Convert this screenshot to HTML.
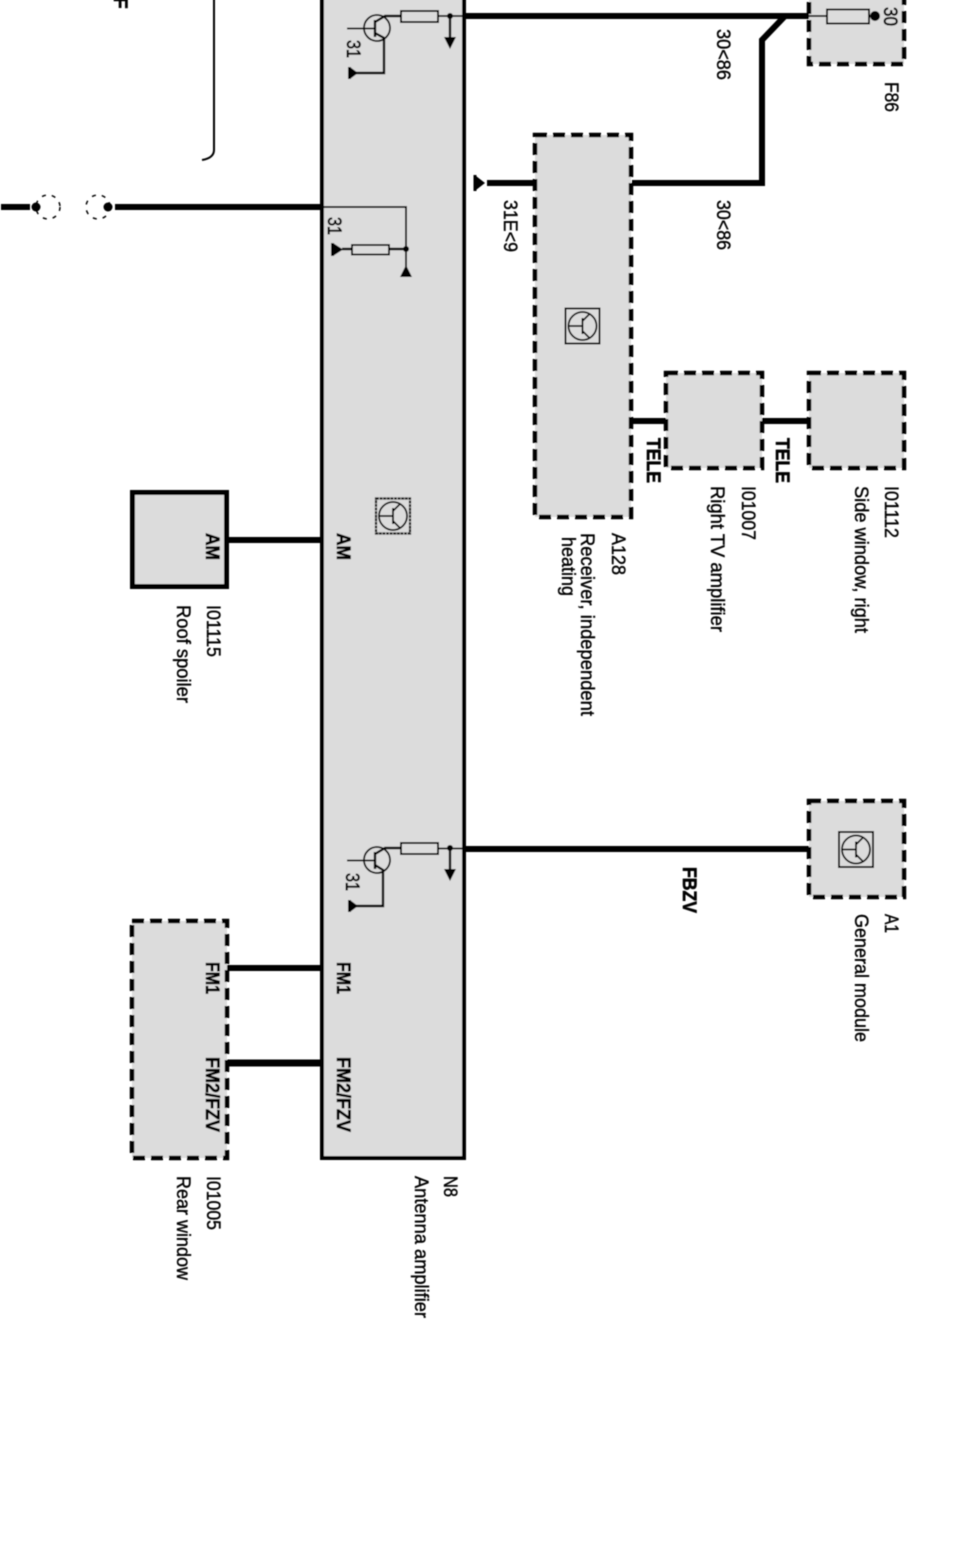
<!DOCTYPE html>
<html><head><meta charset="utf-8"><style>
html,body{margin:0;padding:0;background:#fff}
svg{display:block}
text{font-family:"Liberation Sans",sans-serif;font-size:19px;fill:#000;stroke:#000;stroke-width:.4}
.b{font-weight:bold;stroke-width:.6}
.h{stroke-width:.7}
.box{fill:#dcdcdc;stroke:#000;stroke-width:4.500;stroke-dasharray:12 6}
.w{fill:none;stroke:#000;stroke-width:6}
.t{fill:none;stroke:#000;stroke-width:1.800}
.m{fill:none;stroke:#000;stroke-width:2.400}
</style></head><body>
<svg width="956" height="1541" viewBox="0 0 956 1541" xmlns="http://www.w3.org/2000/svg">
<defs><filter id="bl" filterUnits="userSpaceOnUse" x="0" y="0" width="956" height="1541"><feGaussianBlur stdDeviation="0.5"/></filter></defs>
<rect width="956" height="1541" fill="#fff"/>
<g filter="url(#bl)">

<!-- N8 -->
<rect x="322" y="-8" width="142" height="1166" fill="#dcdcdc" stroke="#000" stroke-width="4"/>

<!-- boxes -->
<rect x="809" y="-20" width="95" height="84" class="box"/>
<rect x="535" y="135" width="96" height="382" class="box"/>
<rect x="666" y="373" width="96" height="95" class="box"/>
<rect x="809" y="373" width="95" height="95" class="box"/>
<rect x="809" y="801" width="95" height="96" class="box"/>
<rect x="132" y="921" width="95" height="237" class="box"/>
<rect x="132.500" y="492.500" width="94" height="94" fill="#dcdcdc" stroke="#000" stroke-width="5"/>

<!-- thick wires -->
<path class="w" d="M464 16H809"/>
<path class="w" d="M785 16L762 40V183H632"/>
<path class="w" d="M487 183H535"/>
<path class="w" d="M632 421H666M762 421H809"/>
<path class="w" d="M464 849H809"/>
<path class="w" d="M227 540H322"/>
<path class="w" d="M227 968H322"/>
<path class="w" style="stroke-width:7" d="M227 1063H322"/>
<path class="w" d="M1 207H30M115 207H322"/>
<path d="M485 183L476 176V190Z" fill="#000"/>
<rect x="473.500" y="175" width="3" height="16" fill="#000"/>

<!-- thin top-left line -->
<path d="M214 -2V150Q214 158 202 160" fill="none" stroke="#000" stroke-width="2"/>

<!-- connector -->
<circle cx="36" cy="207" r="4.500" fill="#000"/>
<circle cx="108" cy="207" r="4.500" fill="#000"/>
<circle cx="48" cy="207" r="12" fill="none" stroke="#000" stroke-width="1.500" stroke-dasharray="4 6"/>
<circle cx="98" cy="207" r="12" fill="none" stroke="#000" stroke-width="1.500" stroke-dasharray="4 6"/>

<!-- fuse F86 -->
<path class="t" d="M806 16H875"/>
<rect x="827" y="9.500" width="42" height="14" fill="#dcdcdc" stroke="#000" stroke-width="2"/>
<circle cx="875" cy="16" r="5" fill="#000"/>

<!-- transistor top -->
<circle cx="377" cy="28" r="13" class="t"/>
<path class="t" d="M347 28.500H375"/>
<path class="m" d="M375 20V37M375 22L385 16H401M375 33L384 38V73H356"/>
<rect x="348" y="67" width="3" height="12" fill="#000"/>
<path d="M350 67L358 73L350 79Z" fill="#000"/>
<rect x="401" y="11" width="37" height="11" fill="#dcdcdc" stroke="#000" stroke-width="2"/>
<path class="t" d="M438 16H464"/>
<circle cx="450" cy="16" r="3" fill="#000"/>
<path class="m" d="M450 16V38"/>
<path d="M444 37H456L450 49Z" fill="#000"/>

<!-- transistor bottom -->
<circle cx="377" cy="860" r="13" class="t"/>
<path class="t" d="M347 860.500H375"/>
<path class="m" d="M375 852V869M375 854L385 848H401M375 865L383 870V906H356"/>
<rect x="348" y="900" width="3" height="12" fill="#000"/>
<path d="M350 900L358 906L350 912Z" fill="#000"/>
<rect x="401" y="843" width="37" height="11" fill="#dcdcdc" stroke="#000" stroke-width="2"/>
<path class="t" d="M438 848.500H464"/>
<circle cx="450" cy="848" r="3" fill="#000"/>
<path class="m" d="M450 848V870"/>
<path d="M444 869H456L450 881Z" fill="#000"/>

<!-- shield section -->
<path class="t" d="M322 207H406V268" style="stroke-width:2"/>
<circle cx="406" cy="249" r="3" fill="#000"/>
<path d="M400 277H412L406 265Z" fill="#000"/>
<path class="m" d="M342 249H352M389 249H406"/>
<rect x="352" y="245" width="37" height="9.500" fill="#dcdcdc" stroke="#000" stroke-width="1.800"/>
<rect x="331" y="243" width="3" height="13" fill="#000"/>
<path d="M333 243L343 249.500L333 256Z" fill="#000"/>

<!-- module icons -->
<g transform="translate(393 516)">
<rect x="-17" y="-17.500" width="34" height="35" fill="none" stroke="#000" stroke-width="2.200" stroke-dasharray="3 .6"/>
<circle r="14" class="t"/>
<path class="t" d="M-14 0H0M0 -8V8M0 -5L7 -12M0 5L7 12"/>
</g>
<g transform="translate(582.500 326)">
<rect x="-17" y="-17.500" width="34" height="35" fill="none" stroke="#000" stroke-width="2"/>
<circle r="14" class="t"/>
<path class="t" d="M-14 0H0M0 -8V8M0 -5L7 -12M0 5L7 12"/>
</g>
<g transform="translate(856 849.500)">
<rect x="-17" y="-17.500" width="34" height="35" fill="none" stroke="#000" stroke-width="2"/>
<circle r="14" class="t"/>
<path class="t" d="M-14 0H0M0 -8V8M0 -5L7 -12M0 5L7 12"/>
</g>

<!-- labels -->
<g transform="translate(1 0)">
<text class="b" transform="translate(113 -3) rotate(90)">F</text>
<text class="h" transform="translate(346 40) rotate(90)" textLength="18" lengthAdjust="spacingAndGlyphs">31</text>
<text class="h" transform="translate(327 217) rotate(90)" textLength="18" lengthAdjust="spacingAndGlyphs">31</text>
<text class="h" transform="translate(345 873) rotate(90)" textLength="18" lengthAdjust="spacingAndGlyphs">31</text>
<text class="h" transform="translate(883 7) rotate(90)" textLength="19" lengthAdjust="spacingAndGlyphs">30</text>
<text transform="translate(716 29) rotate(90)" textLength="51" lengthAdjust="spacingAndGlyphs">30&lt;86</text>
<text transform="translate(716 200) rotate(90)" textLength="50" lengthAdjust="spacingAndGlyphs">30&lt;86</text>
<text transform="translate(503 200) rotate(90)" textLength="52" lengthAdjust="spacingAndGlyphs">31E&lt;9</text>
<text transform="translate(884 82) rotate(90)" textLength="30" lengthAdjust="spacingAndGlyphs">F86</text>
<text class="b" transform="translate(646 438) rotate(90)" textLength="45" lengthAdjust="spacingAndGlyphs">TELE</text>
<text class="b" transform="translate(775 438) rotate(90)" textLength="45" lengthAdjust="spacingAndGlyphs">TELE</text>
<text transform="translate(611 533) rotate(90)" textLength="42" lengthAdjust="spacingAndGlyphs">A128</text>
<text transform="translate(580 533) rotate(90)" textLength="183" lengthAdjust="spacingAndGlyphs">Receiver, independent</text>
<text transform="translate(561 537) rotate(90)" textLength="59" lengthAdjust="spacingAndGlyphs">heating</text>
<text transform="translate(741 486) rotate(90)" textLength="54" lengthAdjust="spacingAndGlyphs">I01007</text>
<text transform="translate(710 486) rotate(90)" textLength="146" lengthAdjust="spacingAndGlyphs">Right TV amplifier</text>
<text transform="translate(884 486) rotate(90)" textLength="52" lengthAdjust="spacingAndGlyphs">I01112</text>
<text transform="translate(854 486) rotate(90)" textLength="147" lengthAdjust="spacingAndGlyphs">Side window, right</text>
<text class="b" transform="translate(682 867) rotate(90)" textLength="46" lengthAdjust="spacingAndGlyphs">FBZV</text>
<text transform="translate(884 914) rotate(90)" textLength="19" lengthAdjust="spacingAndGlyphs">A1</text>
<text transform="translate(854 914) rotate(90)" textLength="128" lengthAdjust="spacingAndGlyphs">General module</text>
<text class="b" transform="translate(205 533) rotate(90)" textLength="27" lengthAdjust="spacingAndGlyphs">AM</text>
<text class="b" transform="translate(336 533) rotate(90)" textLength="27" lengthAdjust="spacingAndGlyphs">AM</text>
<text transform="translate(206 605) rotate(90)" textLength="52" lengthAdjust="spacingAndGlyphs">I01115</text>
<text transform="translate(176 605) rotate(90)" textLength="98" lengthAdjust="spacingAndGlyphs">Roof spoiler</text>
<text class="b" transform="translate(205 962) rotate(90)" textLength="32" lengthAdjust="spacingAndGlyphs">FM1</text>
<text class="b" transform="translate(336 962) rotate(90)" textLength="32" lengthAdjust="spacingAndGlyphs">FM1</text>
<text class="b" transform="translate(205 1057) rotate(90)" textLength="75" lengthAdjust="spacingAndGlyphs">FM2/FZV</text>
<text class="b" transform="translate(336 1057) rotate(90)" textLength="75" lengthAdjust="spacingAndGlyphs">FM2/FZV</text>
<text transform="translate(206 1176) rotate(90)" textLength="54" lengthAdjust="spacingAndGlyphs">I01005</text>
<text transform="translate(176 1176) rotate(90)" textLength="104" lengthAdjust="spacingAndGlyphs">Rear window</text>
<text transform="translate(443 1176) rotate(90)" textLength="21" lengthAdjust="spacingAndGlyphs">N8</text>
<text transform="translate(414 1176) rotate(90)" textLength="142" lengthAdjust="spacingAndGlyphs">Antenna amplifier</text>
</g>
</g>
</svg>
</body></html>
